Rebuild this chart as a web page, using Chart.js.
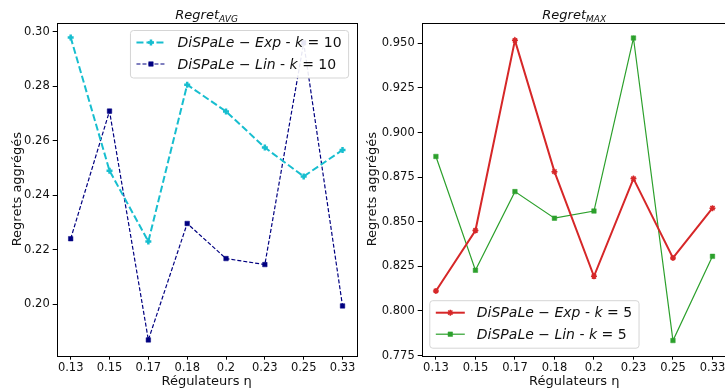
<!DOCTYPE html>
<html>
<head>
<meta charset="utf-8">
<script src="https://cdn.jsdelivr.net/npm/chart.js@4.4.0/dist/chart.umd.min.js"></script>
<style>
  body { margin: 0; background: #fff; }
  .wrap { position: absolute; top: 0; height: 390px; overflow: hidden; }
</style>
</head>
<body>
<div class="wrap" style="left:0;width:363px"><canvas id="avgChart" width="363" height="390"></canvas></div>
<div class="wrap" style="left:363px;width:362px"><canvas id="maxChart" width="372" height="390"></canvas></div>
<script>
const xLabels = ['0.13', '0.15', '0.17', '0.18', '0.2', '0.23', '0.25', '0.33'];

// Regret AVG, k = 10
const avgExp = [0.298, 0.249, 0.223, 0.2806, 0.2708, 0.2575, 0.2469, 0.2566];
const avgLin = [0.224, 0.2709, 0.1868, 0.2296, 0.2167, 0.2145, 0.296, 0.1993];
const avgTicks = [0.20, 0.22, 0.24, 0.26, 0.28, 0.30];

// Regret MAX, k = 5
const maxExp = [0.8112, 0.8451, 0.9517, 0.8781, 0.8194, 0.8742, 0.8297, 0.8576];
const maxLin = [0.8866, 0.8228, 0.8669, 0.852, 0.856, 0.953, 0.7834, 0.8306];
const maxTicks = [0.775, 0.800, 0.825, 0.850, 0.875, 0.900, 0.925, 0.950];

Chart.defaults.font.family = 'DejaVu Sans';
Chart.defaults.color = '#111';

const toPoints = arr => arr.map((v, i) => ({x: i, y: v}));

// matplotlib-like frame, title with subscript, legend inside the axes
const framePlugin = {
  id: 'frame',
  afterDatasetsDraw(chart) {
    const {ctx, chartArea: a} = chart;
    ctx.save();
    ctx.strokeStyle = '#000';
    ctx.lineWidth = 1;
    ctx.strokeRect(Math.round(a.left) + 0.5, Math.round(a.top) + 0.5,
      Math.round(a.right - a.left), Math.round(a.bottom - a.top));
    ctx.restore();
  },
  afterDraw(chart) {
    const o = chart.options.plugins.frame;
    const {ctx, chartArea: a} = chart;
    ctx.save();
    // title
    ctx.fillStyle = '#111';
    ctx.textBaseline = 'alphabetic';
    ctx.font = 'italic 13px "DejaVu Sans"';
    const w1 = ctx.measureText(o.title).width;
    ctx.font = 'italic 9px "DejaVu Sans"';
    const w2 = ctx.measureText(o.sub).width;
    let tx = (a.left + a.right) / 2 - (w1 + w2) / 2;
    ctx.font = 'italic 13px "DejaVu Sans"';
    ctx.fillText(o.title, tx, 19);
    ctx.font = 'italic 9px "DejaVu Sans"';
    ctx.fillText(o.sub, tx + w1, 21.5);

    // legend
    const fs = 14;
    const pieces = ds => [
      [ds.label, 'italic'], [' - ', 'normal'], ['k', 'italic'], [' = ' + o.k, 'normal']
    ];
    const textW = ds => pieces(ds).reduce((s, p) => {
      ctx.font = p[1] + ' ' + fs + 'px "DejaVu Sans"';
      return s + ctx.measureText(p[0]).width;
    }, 0);
    const dsets = chart.data.datasets;
    const tw = Math.max(...dsets.map(textW));
    const pad = 6.5, handle = 29, gap = 12;
    const bw = pad + handle + gap + tw + pad, bh = 47.5;
    let bx, by;
    if (o.legendPos === 'upper right') {
      bx = a.right - 8.4 - bw; by = a.top + 7.3;
    } else {
      bx = a.left + 7.6; by = a.bottom - 8 - bh;
    }
    ctx.beginPath();
    ctx.roundRect(bx + 0.5, by + 0.5, bw, bh, 3);
    ctx.fillStyle = 'rgba(255,255,255,0.9)';
    ctx.fill();
    ctx.strokeStyle = '#d5d5d5';
    ctx.lineWidth = 1;
    ctx.stroke();
    dsets.forEach((ds, i) => {
      const cy = by + 12.5 + i * 21.5;
      const hx = bx + pad;
      ctx.strokeStyle = ds.borderColor;
      ctx.fillStyle = ds.backgroundColor;
      ctx.lineWidth = ds.borderWidth;
      ctx.setLineDash(ds.borderDash || []);
      ctx.beginPath();
      ctx.moveTo(hx, cy);
      ctx.lineTo(hx + handle, cy);
      ctx.stroke();
      ctx.setLineDash([]);
      ctx.lineWidth = ds.pointBorderWidth;
      Chart.helpers.drawPoint(ctx, {
        pointStyle: ds.pointStyle, radius: ds.pointRadius, borderWidth: ds.pointBorderWidth, rotation: 0
      }, hx + handle / 2, cy);
      let x = hx + handle + gap;
      ctx.fillStyle = '#111';
      ctx.textBaseline = 'middle';
      pieces(ds).forEach(p => {
        ctx.font = p[1] + ' ' + fs + 'px "DejaVu Sans"';
        ctx.fillText(p[0], x, cy + 1);
        x += ctx.measureText(p[0]).width;
      });
    });
    ctx.restore();
  }
};

function makeChart(id, opts) {
  return new Chart(document.getElementById(id), {
    type: 'line',
    data: {datasets: opts.datasets},
    plugins: [framePlugin],
    options: {
      responsive: false,
      animation: false,
      layout: {padding: {top: 22.7, right: opts.padRight, left: 0, bottom: 0}},
      plugins: {
        legend: {display: false},
        tooltip: {enabled: false},
        frame: {title: 'Regret', sub: opts.sub, k: opts.k, legendPos: opts.legendPos}
      },
      scales: {
        x: {
          type: 'linear',
          min: -0.36,
          max: 7.36,
          afterBuildTicks: s => { s.ticks = xLabels.map((l, i) => ({value: i})); },
          afterFit: s => { s.height = 34.3; },
          ticks: {callback: v => xLabels[v], font: {size: 11.5}, padding: 1, maxRotation: 0},
          grid: {drawOnChartArea: false, drawTicks: true, tickLength: 4, tickColor: '#000'},
          border: {display: false},
          title: {display: true, text: 'Régulateurs η', font: {size: 13}, padding: {top: 0, bottom: 1}}
        },
        y: {
          min: opts.yMin,
          max: opts.yMax,
          afterBuildTicks: s => { s.ticks = opts.yTicks.map(v => ({value: v})); },
          afterFit: s => { s.width = opts.yWidth; },
          ticks: {callback: v => v.toFixed(opts.dec), font: {size: 11.5}, padding: 3},
          grid: {drawOnChartArea: false, drawTicks: true, tickLength: 4, tickColor: '#000'},
          border: {display: false},
          title: {display: true, text: 'Regrets aggrégés', font: {size: 13}, padding: {top: opts.titlePad, bottom: 0}}
        }
      }
    }
  });
}

makeChart('avgChart', {
  sub: 'AVG', k: 10, legendPos: 'upper right',
  yMin: 0.181, yMax: 0.3034, yTicks: avgTicks, dec: 2, yWidth: 56.7, padRight: 1.3, titlePad: 10,
  datasets: [
    {
      label: 'DiSPaLe − Exp', data: toPoints(avgExp),
      borderColor: '#17becf', backgroundColor: '#17becf', borderWidth: 2, borderDash: [7, 3],
      pointStyle: 'cross', pointRadius: 3, pointBorderWidth: 2.5
    },
    {
      label: 'DiSPaLe − Lin', data: toPoints(avgLin),
      borderColor: '#000080', backgroundColor: '#000080', borderWidth: 1.2, borderDash: [4, 2],
      pointStyle: 'rect', pointRadius: 3.2, pointBorderWidth: 0.5
    }
  ]
});

makeChart('maxChart', {
  sub: 'MAX', k: 5, legendPos: 'lower left',
  yMin: 0.7749, yMax: 0.9616, yTicks: maxTicks, dec: 3, yWidth: 58.7, padRight: 8.3, titlePad: 2,
  datasets: [
    {
      label: 'DiSPaLe − Exp', data: toPoints(maxExp),
      borderColor: '#d62728', backgroundColor: '#d62728', borderWidth: 2,
      pointStyle: 'star', pointRadius: 3, pointBorderWidth: 1.5
    },
    {
      label: 'DiSPaLe − Lin', data: toPoints(maxLin),
      borderColor: '#2ca02c', backgroundColor: '#2ca02c', borderWidth: 1.2,
      pointStyle: 'rect', pointRadius: 3.2, pointBorderWidth: 0.5
    }
  ]
});
</script>
</body>
</html>
